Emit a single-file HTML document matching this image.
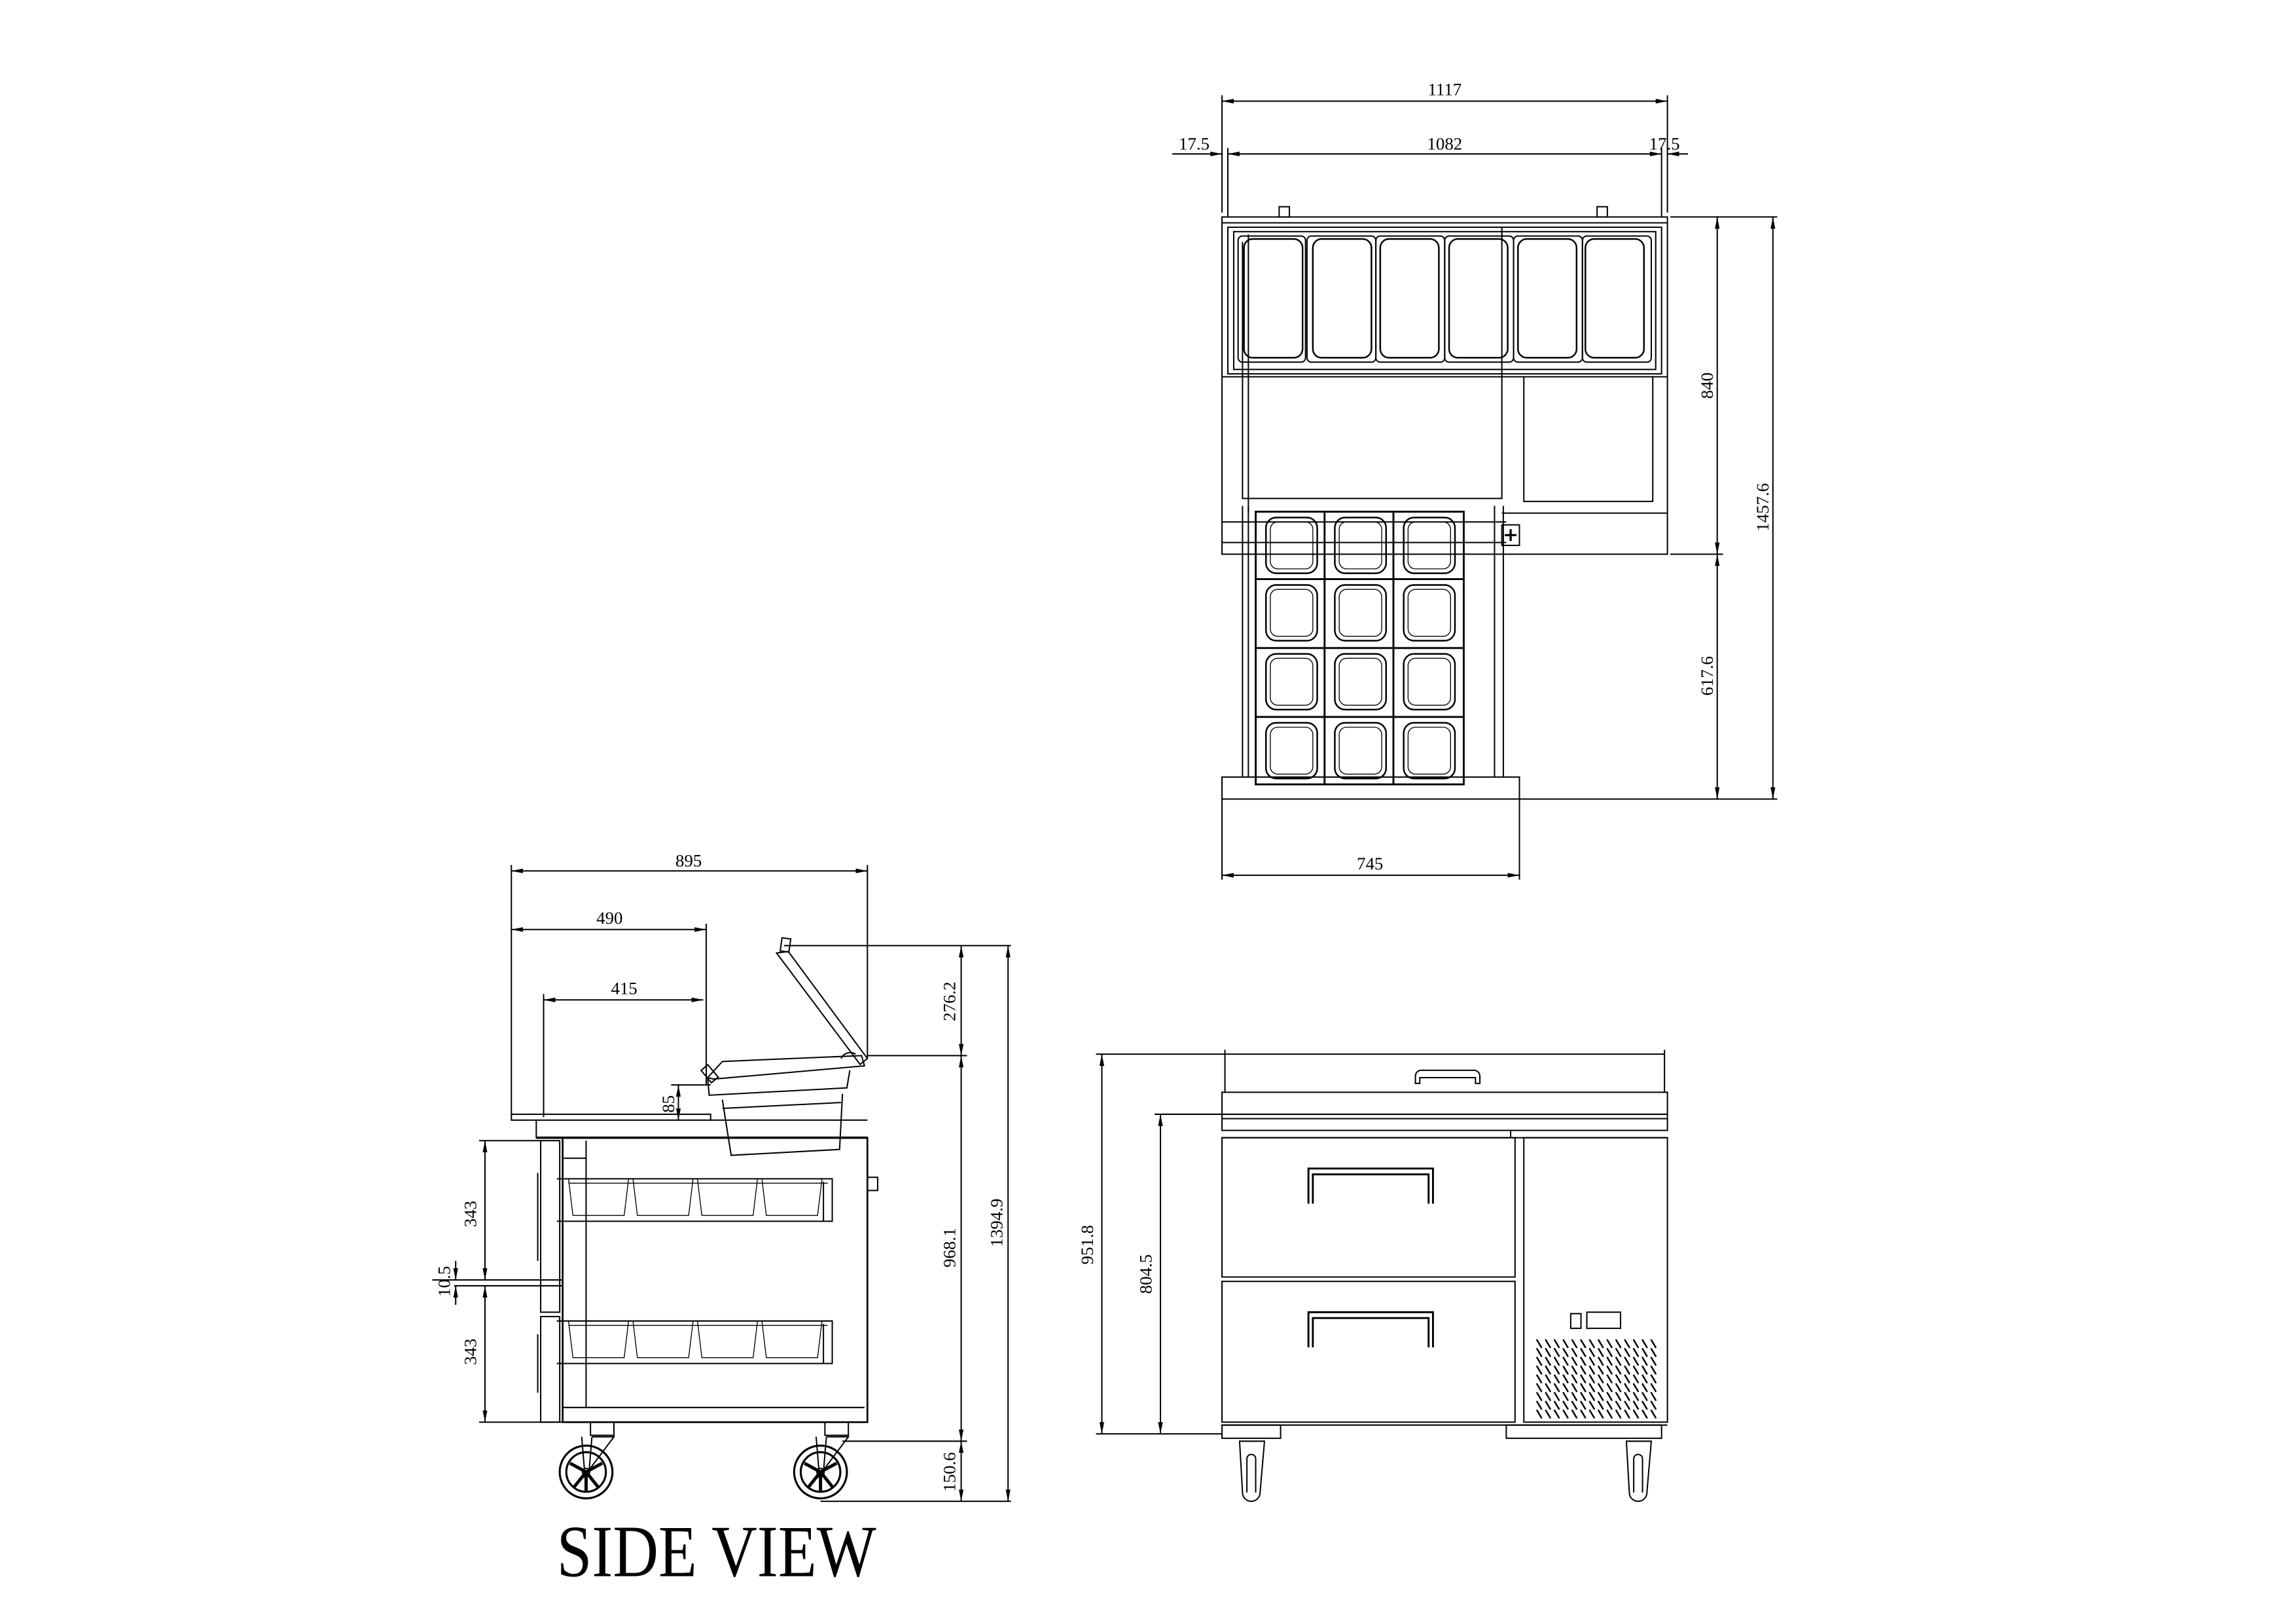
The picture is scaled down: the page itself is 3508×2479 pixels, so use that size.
<!DOCTYPE html>
<html><head><meta charset="utf-8"><style>
html,body{margin:0;padding:0;background:#fff}
svg{display:block}
text{font-family:"Liberation Serif",serif;fill:#000}
</style></head><body>
<svg width="3508" height="2479" viewBox="0 0 1567 1107" preserveAspectRatio="none" xmlns="http://www.w3.org/2000/svg">
<defs>
<marker id="a" viewBox="0 0 10 4" refX="10" refY="2" markerWidth="8" markerHeight="3.2" orient="auto-start-reverse" markerUnits="userSpaceOnUse"><path d="M0,0L10,2L0,4z" fill="#000"/></marker>
</defs>
<g fill="none" stroke="#000" stroke-width="0.9">
<line x1="834" y1="69" x2="1138" y2="69" marker-start="url(#a)" marker-end="url(#a)"/>
<line x1="834" y1="65" x2="834" y2="145"/><line x1="1138" y1="65" x2="1138" y2="145"/>
<line x1="800" y1="105" x2="834" y2="105" marker-end="url(#a)"/>
<line x1="838" y1="105" x2="1134" y2="105" marker-start="url(#a)" marker-end="url(#a)"/>
<line x1="1138" y1="105" x2="1152" y2="105" marker-start="url(#a)"/>
<line x1="838" y1="101" x2="838" y2="148"/><line x1="1134" y1="101" x2="1134" y2="148"/>
<rect x="834" y="148" width="304" height="230"/>
<line x1="834" y1="152" x2="1138" y2="152"/>
<rect x="838" y="155" width="296" height="100"/>
<rect x="842" y="158" width="288" height="94"/>
<rect x="873" y="141" width="7" height="7"/><rect x="1090" y="141" width="7" height="7"/>
<g stroke-width="1.1">
<rect x="849" y="163" width="40" height="81" rx="6"/>
<rect x="896" y="163" width="40" height="81" rx="6"/>
<rect x="942" y="163" width="40" height="81" rx="6"/>
<rect x="989" y="163" width="40" height="81" rx="6"/>
<rect x="1036" y="163" width="40" height="81" rx="6"/>
<rect x="1082" y="163" width="40" height="81" rx="6"/>
</g>
<rect x="845" y="161" width="46" height="86" rx="3"/><rect x="892" y="161" width="47" height="86" rx="3"/><rect x="939" y="161" width="47" height="86" rx="3"/><rect x="986" y="161" width="47" height="86" rx="3"/><rect x="1033" y="161" width="47" height="86" rx="3"/><rect x="1080" y="161" width="47" height="86" rx="3"/>
<line x1="834" y1="257" x2="1138" y2="257"/>
<path d="M848,165V340H1025V155"/>
<path d="M852,160V350"/>
<path d="M1040,257V342H1128V257"/>
<line x1="1025" y1="350" x2="1138" y2="350"/>
<line x1="834" y1="356" x2="1028" y2="356"/>
<line x1="834" y1="370" x2="1028" y2="370"/>
<rect x="1025" y="358" width="12" height="14"/>
<path d="M1031,361v8M1027,365h8" stroke-width="1.5"/>
<path d="M848,345V530M852,345V530M1020,345V530M1026,345V530"/>
<rect x="857" y="349" width="142" height="186" stroke-width="1.3"/>
<g stroke-width="1.3">
<path d="M904,349V535M951,349V535M857,395H999M857,442H999M857,489H999"/>
</g>
<g stroke-width="1.1">
<rect x="864" y="353" width="35" height="38" rx="7"/><rect x="911" y="353" width="35" height="38" rx="7"/><rect x="958" y="353" width="35" height="38" rx="7"/>
<rect x="864" y="399" width="35" height="38" rx="7"/><rect x="911" y="399" width="35" height="38" rx="7"/><rect x="958" y="399" width="35" height="38" rx="7"/>
<rect x="864" y="446" width="35" height="38" rx="7"/><rect x="911" y="446" width="35" height="38" rx="7"/><rect x="958" y="446" width="35" height="38" rx="7"/>
<rect x="864" y="493" width="35" height="38" rx="7"/><rect x="911" y="493" width="35" height="38" rx="7"/><rect x="958" y="493" width="35" height="38" rx="7"/>
</g>
<g stroke-width="0.6">
<rect x="867" y="356" width="29" height="32" rx="5"/><rect x="914" y="356" width="29" height="32" rx="5"/><rect x="961" y="356" width="29" height="32" rx="5"/>
<rect x="867" y="402" width="29" height="32" rx="5"/><rect x="914" y="402" width="29" height="32" rx="5"/><rect x="961" y="402" width="29" height="32" rx="5"/>
<rect x="867" y="449" width="29" height="32" rx="5"/><rect x="914" y="449" width="29" height="32" rx="5"/><rect x="961" y="449" width="29" height="32" rx="5"/>
<rect x="867" y="496" width="29" height="32" rx="5"/><rect x="914" y="496" width="29" height="32" rx="5"/><rect x="961" y="496" width="29" height="32" rx="5"/>
</g>
<rect x="834" y="530" width="203" height="15"/>
<line x1="1140" y1="148" x2="1213" y2="148"/>
<line x1="1140" y1="378" x2="1176" y2="378"/>
<line x1="1037" y1="545" x2="1213" y2="545"/>
<line x1="1172" y1="148" x2="1172" y2="378" marker-start="url(#a)" marker-end="url(#a)"/>
<line x1="1172" y1="378" x2="1172" y2="545" marker-start="url(#a)" marker-end="url(#a)"/>
<line x1="1210" y1="148" x2="1210" y2="545" marker-start="url(#a)" marker-end="url(#a)"/>
<line x1="834" y1="545" x2="834" y2="600"/><line x1="1037" y1="545" x2="1037" y2="600"/>
<line x1="834" y1="597" x2="1037" y2="597" marker-start="url(#a)" marker-end="url(#a)"/>

<line x1="349" y1="594" x2="592" y2="594" marker-start="url(#a)" marker-end="url(#a)"/>
<line x1="349" y1="634" x2="482" y2="634" marker-start="url(#a)" marker-end="url(#a)"/>
<line x1="371" y1="682" x2="480" y2="682" marker-start="url(#a)" marker-end="url(#a)"/>
<line x1="349" y1="590" x2="349" y2="760"/>
<line x1="592" y1="590" x2="592" y2="722"/>
<line x1="482" y1="630" x2="482" y2="740"/>
<line x1="371" y1="678" x2="371" y2="762"/>
<line x1="463" y1="740" x2="463" y2="764" marker-start="url(#a)" marker-end="url(#a)"/>
<line x1="458" y1="740" x2="485" y2="740"/>
<rect x="349" y="760" width="136" height="4"/>
<path d="M366,764V776H592"/>
<line x1="485" y1="764" x2="592" y2="764"/>
<line x1="366" y1="776" x2="592" y2="776" stroke-width="1.6"/>
<path d="M530,650L538,649L592,722L587,726Z"/>
<rect x="533" y="640" width="6" height="9" transform="rotate(8 536 645)"/>
<path d="M483,735L493,724L588,720L590,727L487,736Z"/>
<path d="M483,736L484,747L578,742L580,730"/>
<rect x="481" y="727" width="6" height="11" transform="rotate(-40 484 732)"/>
<path d="M493,750L499,788L573,784L575,746"/>
<line x1="493" y1="756" x2="574" y2="752"/>
<path d="M574,722a7,7 0 0 1 10,-3"/>
<rect x="384" y="776" width="208" height="194" stroke-width="1.2"/>
<path d="M400,778V960H590"/>
<line x1="384" y1="790" x2="400" y2="790"/>
<line x1="384" y1="960" x2="400" y2="960"/>
<rect x="592" y="803" width="7" height="9"/>
<rect x="369" y="778" width="13" height="117"/>
<rect x="369" y="898" width="13" height="72"/>
<line x1="367" y1="800" x2="367" y2="860"/><line x1="367" y1="910" x2="367" y2="950"/>
<path d="M380,804H568V833H380"/><line x1="562" y1="806" x2="562" y2="833"/>
<path d="M380,901H568V930H380"/><line x1="562" y1="903" x2="562" y2="930"/>
<g stroke-width="0.6">
<path d="M388,804l3,25h35l3,-25M432,804l3,25h35l3,-25M476,804l3,25h35l3,-25M520,804l3,25h35l3,-25"/>
<path d="M388,901l3,25h35l3,-25M432,901l3,25h35l3,-25M476,901l3,25h35l3,-25M520,901l3,25h35l3,-25"/>
<line x1="388" y1="807" x2="565" y2="807"/><line x1="388" y1="904" x2="565" y2="904"/>
</g>
<line x1="327" y1="778" x2="369" y2="778"/>
<line x1="327" y1="970" x2="384" y2="970"/>
<line x1="295" y1="873" x2="384" y2="873"/>
<line x1="310" y1="877" x2="384" y2="877"/>
<line x1="331" y1="778" x2="331" y2="873" marker-start="url(#a)" marker-end="url(#a)"/>
<line x1="331" y1="877" x2="331" y2="970" marker-start="url(#a)" marker-end="url(#a)"/>
<line x1="311" y1="860" x2="311" y2="873" marker-end="url(#a)"/>
<line x1="311" y1="890" x2="311" y2="877" marker-end="url(#a)"/>
<rect x="403" y="970" width="16" height="9"/><rect x="563" y="970" width="16" height="9"/>
<g id="w">
<circle cx="400" cy="1004" r="18" stroke-width="1.4"/>
<circle cx="400" cy="1004" r="13.5" stroke-width="1.4"/>
<circle cx="400" cy="1004" r="2.5"/>
<path d="M400,1004l-11,-6M400,1004l11,-6M400,1004l0,13M400,1004l-8,10M400,1004l8,10" stroke-width="2.2"/>
<path d="M397,980L399,1004M404,980L402,1004M404,980H419L398,1008"/>
</g>
<use href="#w" x="160"/>
<line x1="535" y1="645" x2="690" y2="645"/>
<line x1="592" y1="720" x2="660" y2="720"/>
<line x1="575" y1="983" x2="660" y2="983"/>
<line x1="560" y1="1024" x2="690" y2="1024"/>
<line x1="656" y1="645" x2="656" y2="720" marker-start="url(#a)" marker-end="url(#a)"/>
<line x1="656" y1="720" x2="656" y2="983" marker-start="url(#a)" marker-end="url(#a)"/>
<line x1="656" y1="983" x2="656" y2="1024" marker-start="url(#a)" marker-end="url(#a)"/>
<line x1="688" y1="645" x2="688" y2="1024" marker-start="url(#a)" marker-end="url(#a)"/>

<line x1="748" y1="719" x2="1136" y2="719"/>
<line x1="748" y1="978" x2="834" y2="978"/>
<line x1="788" y1="760" x2="834" y2="760"/>
<line x1="752" y1="719" x2="752" y2="978" marker-start="url(#a)" marker-end="url(#a)"/>
<line x1="792" y1="760" x2="792" y2="978" marker-start="url(#a)" marker-end="url(#a)"/>
<path d="M836,716V745M1136,716V745"/>
<rect x="834" y="745" width="304" height="26"/>
<line x1="834" y1="760" x2="1138" y2="760"/>
<line x1="834" y1="763" x2="1138" y2="763"/>
<path d="M966,739v-5a4,4 0 0 1 4,-4h36a4,4 0 0 1 4,4v5h-3v-4h-38v4z"/>
<line x1="834" y1="776" x2="1138" y2="776"/>
<line x1="1031" y1="771" x2="1031" y2="776"/>
<rect x="834" y="776" width="200" height="95"/>
<rect x="834" y="874" width="200" height="96"/>
<rect x="1040" y="776" width="98" height="194"/>
<path d="M893,821V797H978V821M896,821V801H975V821" stroke-width="1.3"/>
<path d="M893,919V895H978V919M896,919V899H975V919" stroke-width="1.3"/>
<rect x="1072" y="896" width="7" height="10"/><rect x="1083" y="895" width="23" height="11"/>
<line x1="834" y1="972" x2="1138" y2="972"/>
<rect x="834" y="972" width="40" height="9"/>
<rect x="1028" y="972" width="106" height="9"/>
<path d="M846,983L848,1018a6,6 0 0 0 12,0L863,983Z"/>
<path d="M851,1018V995a3,3 0 0 1 6,0V1018"/>
<path d="M1110,983L1112,1018a6,6 0 0 0 12,0L1127,983Z"/>
<path d="M1115,1018V995a3,3 0 0 1 6,0V1018"/>
</g>
<g stroke="#000" stroke-width="1.1" stroke-linecap="round">
<path id="vr" d="M1049,914l3,5M1055,914l3,5M1061,914l3,5M1067,914l3,5M1073,914l3,5M1079,914l3,5M1085,914l3,5M1091,914l3,5M1097,914l3,5M1103,914l3,5M1109,914l3,5M1115,914l3,5M1121,914l3,5M1127,914l3,5"/>
<use href="#vr" y="6"/><use href="#vr" y="12"/><use href="#vr" y="18"/><use href="#vr" y="24"/><use href="#vr" y="30"/><use href="#vr" y="36"/><use href="#vr" y="42"/><use href="#vr" y="48"/>
</g>
<g font-size="12">
<text x="986" y="65" text-anchor="middle">1117</text>
<text x="986" y="102" text-anchor="middle">1082</text>
<text x="815" y="102" text-anchor="middle">17.5</text>
<text x="1136" y="102" text-anchor="middle">17.5</text>
<text x="935" y="593" text-anchor="middle">745</text>
<text transform="translate(1169,263) rotate(-90)" text-anchor="middle">840</text>
<text transform="translate(1207,346) rotate(-90)" text-anchor="middle">1457.6</text>
<text transform="translate(1169,461) rotate(-90)" text-anchor="middle">617.6</text>
<text x="470" y="591" text-anchor="middle">895</text>
<text x="416" y="630" text-anchor="middle">490</text>
<text x="426" y="678" text-anchor="middle">415</text>
<text transform="translate(460,753) rotate(-90)" text-anchor="middle">85</text>
<text transform="translate(652,683) rotate(-90)" text-anchor="middle">276.2</text>
<text transform="translate(652,851) rotate(-90)" text-anchor="middle">968.1</text>
<text transform="translate(684,834) rotate(-90)" text-anchor="middle">1394.9</text>
<text transform="translate(652,1004) rotate(-90)" text-anchor="middle">150.6</text>
<text transform="translate(325,828) rotate(-90)" text-anchor="middle">343</text>
<text transform="translate(325,922) rotate(-90)" text-anchor="middle">343</text>
<text transform="translate(307,874) rotate(-90)" text-anchor="middle">10.5</text>
<text transform="translate(746,849) rotate(-90)" text-anchor="middle">951.8</text>
<text transform="translate(786,869) rotate(-90)" text-anchor="middle">804.5</text>
</g>
<text x="380" y="1075" font-size="50" textLength="218" lengthAdjust="spacingAndGlyphs">SIDE VIEW</text>
</svg>
</body></html>
